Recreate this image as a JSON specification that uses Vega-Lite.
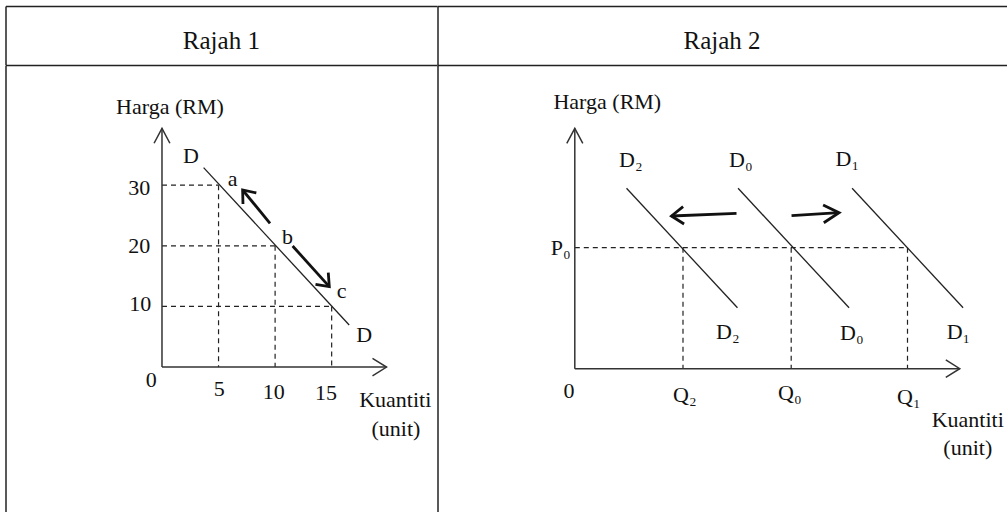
{
  "$schema": "https://vega.github.io/schema/vega-lite/v6.json",
  "padding": {"left": 5.5, "top": 6, "right": 0, "bottom": 0},
  "background": "white",
  "config": {
    "view": {"stroke": null},
    "text": {"font": "Liberation Serif", "color": "#111"}
  },
  "datasets": {
    "seg1": [
      {"kind": "axis", "q": 0, "p": 0, "q2": 0, "p2": 39.39},
      {"kind": "axis", "q": 0, "p": 0, "q2": 19.85, "p2": 0},
      {"kind": "demand", "q": 3.68, "p": 32.9, "q2": 16.55, "p2": 6.93},
      {"kind": "dash", "q": 0, "p": 30, "q2": 5, "p2": 30},
      {"kind": "dash", "q": 5, "p": 30, "q2": 5, "p2": 0},
      {"kind": "dash", "q": 0, "p": 20, "q2": 10, "p2": 20},
      {"kind": "dash", "q": 10, "p": 20, "q2": 10, "p2": 0},
      {"kind": "dash", "q": 0, "p": 10, "q2": 15, "p2": 10},
      {"kind": "dash", "q": 15, "p": 10, "q2": 15, "p2": 0},
      {"kind": "arrow", "q": 9.55, "p": 23.72, "q2": 7.13, "p2": 29.21},
      {"kind": "arrow", "q": 11.55, "p": 19.97, "q2": 14.79, "p2": 13.26}
    ],
    "head1": [
      {"kind": "axis", "id": "h1", "ord": 1, "q": -0.70, "p": 36.92},
      {"kind": "axis", "id": "h1", "ord": 2, "q": 0, "p": 39.39},
      {"kind": "axis", "id": "h1", "ord": 3, "q": 0.70, "p": 36.92},
      {"kind": "axis", "id": "h2", "ord": 1, "q": 18.61, "p": 1.44},
      {"kind": "axis", "id": "h2", "ord": 2, "q": 19.85, "p": 0},
      {"kind": "axis", "id": "h2", "ord": 3, "q": 18.61, "p": -1.44},
      {"kind": "arrow", "id": "h3", "ord": 1, "q": 7.16, "p": 26.90},
      {"kind": "arrow", "id": "h3", "ord": 2, "q": 7.13, "p": 29.21},
      {"kind": "arrow", "id": "h3", "ord": 3, "q": 8.34, "p": 28.72},
      {"kind": "arrow", "id": "h4", "ord": 1, "q": 14.70, "p": 15.57},
      {"kind": "arrow", "id": "h4", "ord": 2, "q": 14.79, "p": 13.26},
      {"kind": "arrow", "id": "h4", "ord": 3, "q": 13.57, "p": 13.66}
    ],
    "lab1": [
      {"q": 0.70, "p": 42.95, "text": "Harga (RM)"},
      {"q": 2.57, "p": 34.90, "text": "D"},
      {"q": 6.25, "p": 30.98, "text": "a"},
      {"q": 11.10, "p": 21.51, "text": "b"},
      {"q": 15.87, "p": 12.60, "text": "c"},
      {"q": 17.88, "p": 5.29, "text": "D"},
      {"q": -2.0, "p": 29.59, "text": "30"},
      {"q": -2.0, "p": 20.0, "text": "20"},
      {"q": -1.93, "p": 10.36, "text": "10"},
      {"q": -0.96, "p": -2.13, "text": "0"},
      {"q": 5.07, "p": -3.66, "text": "5"},
      {"q": 9.87, "p": -4.06, "text": "10"},
      {"q": 14.5, "p": -4.32, "text": "15"},
      {"q": 20.62, "p": -5.43, "text": "Kuantiti"},
      {"q": 20.68, "p": -10.26, "text": "(unit)"}
    ],
    "seg2": [
      {"kind": "axis", "q": 0, "p": 0, "q2": 0, "p2": 3.974},
      {"kind": "axis", "q": 0, "p": 0, "q2": 7.116, "p2": 0},
      {"kind": "demand", "q": 0.956, "p": 2.982, "q2": 3.007, "p2": 1.008},
      {"kind": "demand", "q": 3.018, "p": 2.982, "q2": 5.070, "p2": 1.008},
      {"kind": "demand", "q": 5.126, "p": 2.982, "q2": 7.178, "p2": 1.008},
      {"kind": "dash", "q": 0, "p": 2, "q2": 6.15, "p2": 2},
      {"kind": "dash", "q": 2, "p": 2, "q2": 2, "p2": 0},
      {"kind": "dash", "q": 4, "p": 2, "q2": 4, "p2": 0},
      {"kind": "dash", "q": 6.15, "p": 2, "q2": 6.15, "p2": 0},
      {"kind": "arrow", "q": 2.989, "p": 2.569, "q2": 1.787, "p2": 2.524},
      {"kind": "arrow", "q": 4.006, "p": 2.529, "q2": 4.885, "p2": 2.579}
    ],
    "head2": [
      {"kind": "axis", "id": "h1", "ord": 1, "q": -0.148, "p": 3.726},
      {"kind": "axis", "id": "h1", "ord": 2, "q": 0, "p": 3.974},
      {"kind": "axis", "id": "h1", "ord": 3, "q": 0.148, "p": 3.726},
      {"kind": "axis", "id": "h2", "ord": 1, "q": 6.858, "p": 0.144},
      {"kind": "axis", "id": "h2", "ord": 2, "q": 7.116, "p": 0},
      {"kind": "axis", "id": "h2", "ord": 3, "q": 6.858, "p": -0.144},
      {"kind": "arrow", "id": "h3", "ord": 1, "q": 2.002, "p": 2.678},
      {"kind": "arrow", "id": "h3", "ord": 2, "q": 1.787, "p": 2.524},
      {"kind": "arrow", "id": "h3", "ord": 3, "q": 2.020, "p": 2.392},
      {"kind": "arrow", "id": "h4", "ord": 1, "q": 4.590, "p": 2.706},
      {"kind": "arrow", "id": "h4", "ord": 2, "q": 4.885, "p": 2.579},
      {"kind": "arrow", "id": "h4", "ord": 3, "q": 4.603, "p": 2.413}
    ],
    "lab2": [
      {"q": 0.601, "p": 4.413, "text": "Harga (RM)"},
      {"q": 1.035, "p": 3.450, "text": "D₂"},
      {"q": 3.068, "p": 3.450, "text": "D₀"},
      {"q": 5.037, "p": 3.461, "text": "D₁"},
      {"q": 2.828, "p": 0.612, "text": "D₂"},
      {"q": 5.120, "p": 0.595, "text": "D₀"},
      {"q": 7.092, "p": 0.607, "text": "D₁"},
      {"q": -0.262, "p": 2.0, "text": "P₀"},
      {"q": -0.105, "p": -0.364, "text": "0"},
      {"q": 2.033, "p": -0.435, "text": "Q₂"},
      {"q": 3.974, "p": -0.407, "text": "Q₀"},
      {"q": 6.174, "p": -0.463, "text": "Q₁"},
      {"q": 7.264, "p": -0.848, "text": "Kuantiti"},
      {"q": 7.264, "p": -1.316, "text": "(unit)"}
    ]
  },
  "spacing": 0,
  "hconcat": [
    {
      "spacing": 0,
      "bounds": "flush",
      "vconcat": [
        {
          "width": 431.7,
          "height": 58.5,
          "data": {"values": [{"q": 0.5, "p": 0.268, "text": "Rajah 1"}]},
          "mark": {"type": "text", "font": "Liberation Serif", "fontSize": 25, "align": "center", "baseline": "alphabetic"},
          "encoding": {
            "x": {"field": "q", "type": "quantitative", "scale": {"domain": [0, 1], "nice": false, "zero": false},
                  "axis": {"orient": "top", "domain": true, "domainColor": "#222", "domainWidth": 1.5, "ticks": false, "labels": false, "grid": false, "title": null}},
            "y": {"field": "p", "type": "quantitative", "scale": {"domain": [0, 1], "nice": false, "zero": false},
                  "axis": {"orient": "left", "domain": true, "domainColor": "#222", "domainWidth": 1.5, "ticks": false, "labels": false, "grid": false, "title": null}},
            "text": {"field": "text"}
          }
        },
        {
          "width": 431.7,
          "height": 447,
          "encoding": {
            "x": {"field": "q", "type": "quantitative", "scale": {"domain": [-13.834, 24.33], "nice": false, "zero": false},
                  "axis": {"orient": "top", "domain": true, "domainColor": "#222", "domainWidth": 1.5, "ticks": false, "labels": false, "grid": false, "title": null}},
            "y": {"field": "p", "type": "quantitative", "scale": {"domain": [-23.91, 49.83], "nice": false, "zero": false},
                  "axis": {"orient": "left", "domain": true, "domainColor": "#222", "domainWidth": 1.5, "ticks": false, "labels": false, "grid": false, "title": null}}
          },
          "layer": [
            {
              "data": {"name": "seg1"},
              "transform": [{"filter": "datum.kind === 'dash'"}],
              "mark": {"type": "rule", "color": "#222", "strokeWidth": 1.2, "strokeDash": [5, 4]},
              "encoding": {"x2": {"field": "q2"}, "y2": {"field": "p2"}}
            },
            {
              "data": {"name": "seg1"},
              "transform": [{"filter": "datum.kind === 'axis'"}],
              "mark": {"type": "rule", "color": "#333", "strokeWidth": 1.5},
              "encoding": {"x2": {"field": "q2"}, "y2": {"field": "p2"}}
            },
            {
              "data": {"name": "seg1"},
              "transform": [{"filter": "datum.kind === 'demand'"}],
              "mark": {"type": "rule", "color": "#222", "strokeWidth": 1.3},
              "encoding": {"x2": {"field": "q2"}, "y2": {"field": "p2"}}
            },
            {
              "data": {"name": "seg1"},
              "transform": [{"filter": "datum.kind === 'arrow'"}],
              "mark": {"type": "rule", "color": "#111", "strokeWidth": 2.8},
              "encoding": {"x2": {"field": "q2"}, "y2": {"field": "p2"}}
            },
            {
              "data": {"name": "head1"},
              "transform": [{"filter": "datum.kind === 'axis'"}],
              "mark": {"type": "line", "color": "#333", "strokeWidth": 1.5},
              "encoding": {"detail": {"field": "id"}, "order": {"field": "ord"}}
            },
            {
              "data": {"name": "head1"},
              "transform": [{"filter": "datum.kind === 'arrow'"}],
              "mark": {"type": "line", "color": "#111", "strokeWidth": 2.8},
              "encoding": {"detail": {"field": "id"}, "order": {"field": "ord"}}
            },
            {
              "data": {"name": "lab1"},
              "mark": {"type": "text", "font": "Liberation Serif", "fontSize": 22, "align": "center", "baseline": "middle"},
              "encoding": {"text": {"field": "text"}}
            }
          ]
        }
      ]
    },
    {
      "spacing": 0,
      "bounds": "flush",
      "vconcat": [
        {
          "width": 569,
          "height": 58.5,
          "data": {"values": [{"q": 0.5, "p": 0.268, "text": "Rajah 2"}]},
          "mark": {"type": "text", "font": "Liberation Serif", "fontSize": 25, "align": "center", "baseline": "alphabetic"},
          "encoding": {
            "x": {"field": "q", "type": "quantitative", "scale": {"domain": [0, 1], "nice": false, "zero": false},
                  "axis": {"orient": "top", "domain": true, "domainColor": "#222", "domainWidth": 1.5, "ticks": false, "labels": false, "grid": false, "title": null}},
            "y": {"field": "p", "type": "quantitative", "scale": {"domain": [0, 1], "nice": false, "zero": false},
                  "axis": {"orient": "left", "domain": true, "domainColor": "#222", "domainWidth": 1.5, "ticks": false, "labels": false, "grid": false, "title": null}},
            "text": {"field": "text"}
          }
        },
        {
          "width": 569,
          "height": 447,
          "encoding": {
            "x": {"field": "q", "type": "quantitative", "scale": {"domain": [-2.538, 7.980], "nice": false, "zero": false},
                  "axis": {"orient": "top", "domain": true, "domainColor": "#222", "domainWidth": 1.5, "ticks": false, "labels": false, "grid": false, "title": null}},
            "y": {"field": "p", "type": "quantitative", "scale": {"domain": [-2.369, 5.020], "nice": false, "zero": false},
                  "axis": {"orient": "left", "domain": true, "domainColor": "#222", "domainWidth": 1.5, "ticks": false, "labels": false, "grid": false, "title": null}}
          },
          "layer": [
            {
              "data": {"name": "seg2"},
              "transform": [{"filter": "datum.kind === 'dash'"}],
              "mark": {"type": "rule", "color": "#222", "strokeWidth": 1.2, "strokeDash": [5, 4]},
              "encoding": {"x2": {"field": "q2"}, "y2": {"field": "p2"}}
            },
            {
              "data": {"name": "seg2"},
              "transform": [{"filter": "datum.kind === 'axis'"}],
              "mark": {"type": "rule", "color": "#333", "strokeWidth": 1.5},
              "encoding": {"x2": {"field": "q2"}, "y2": {"field": "p2"}}
            },
            {
              "data": {"name": "seg2"},
              "transform": [{"filter": "datum.kind === 'demand'"}],
              "mark": {"type": "rule", "color": "#222", "strokeWidth": 1.3},
              "encoding": {"x2": {"field": "q2"}, "y2": {"field": "p2"}}
            },
            {
              "data": {"name": "seg2"},
              "transform": [{"filter": "datum.kind === 'arrow'"}],
              "mark": {"type": "rule", "color": "#111", "strokeWidth": 2.8},
              "encoding": {"x2": {"field": "q2"}, "y2": {"field": "p2"}}
            },
            {
              "data": {"name": "head2"},
              "transform": [{"filter": "datum.kind === 'axis'"}],
              "mark": {"type": "line", "color": "#333", "strokeWidth": 1.5},
              "encoding": {"detail": {"field": "id"}, "order": {"field": "ord"}}
            },
            {
              "data": {"name": "head2"},
              "transform": [{"filter": "datum.kind === 'arrow'"}],
              "mark": {"type": "line", "color": "#111", "strokeWidth": 2.8},
              "encoding": {"detail": {"field": "id"}, "order": {"field": "ord"}}
            },
            {
              "data": {"name": "lab2"},
              "mark": {"type": "text", "font": "Liberation Serif", "fontSize": 22, "align": "center", "baseline": "middle"},
              "encoding": {"text": {"field": "text"}}
            }
          ]
        }
      ]
    }
  ]
}
